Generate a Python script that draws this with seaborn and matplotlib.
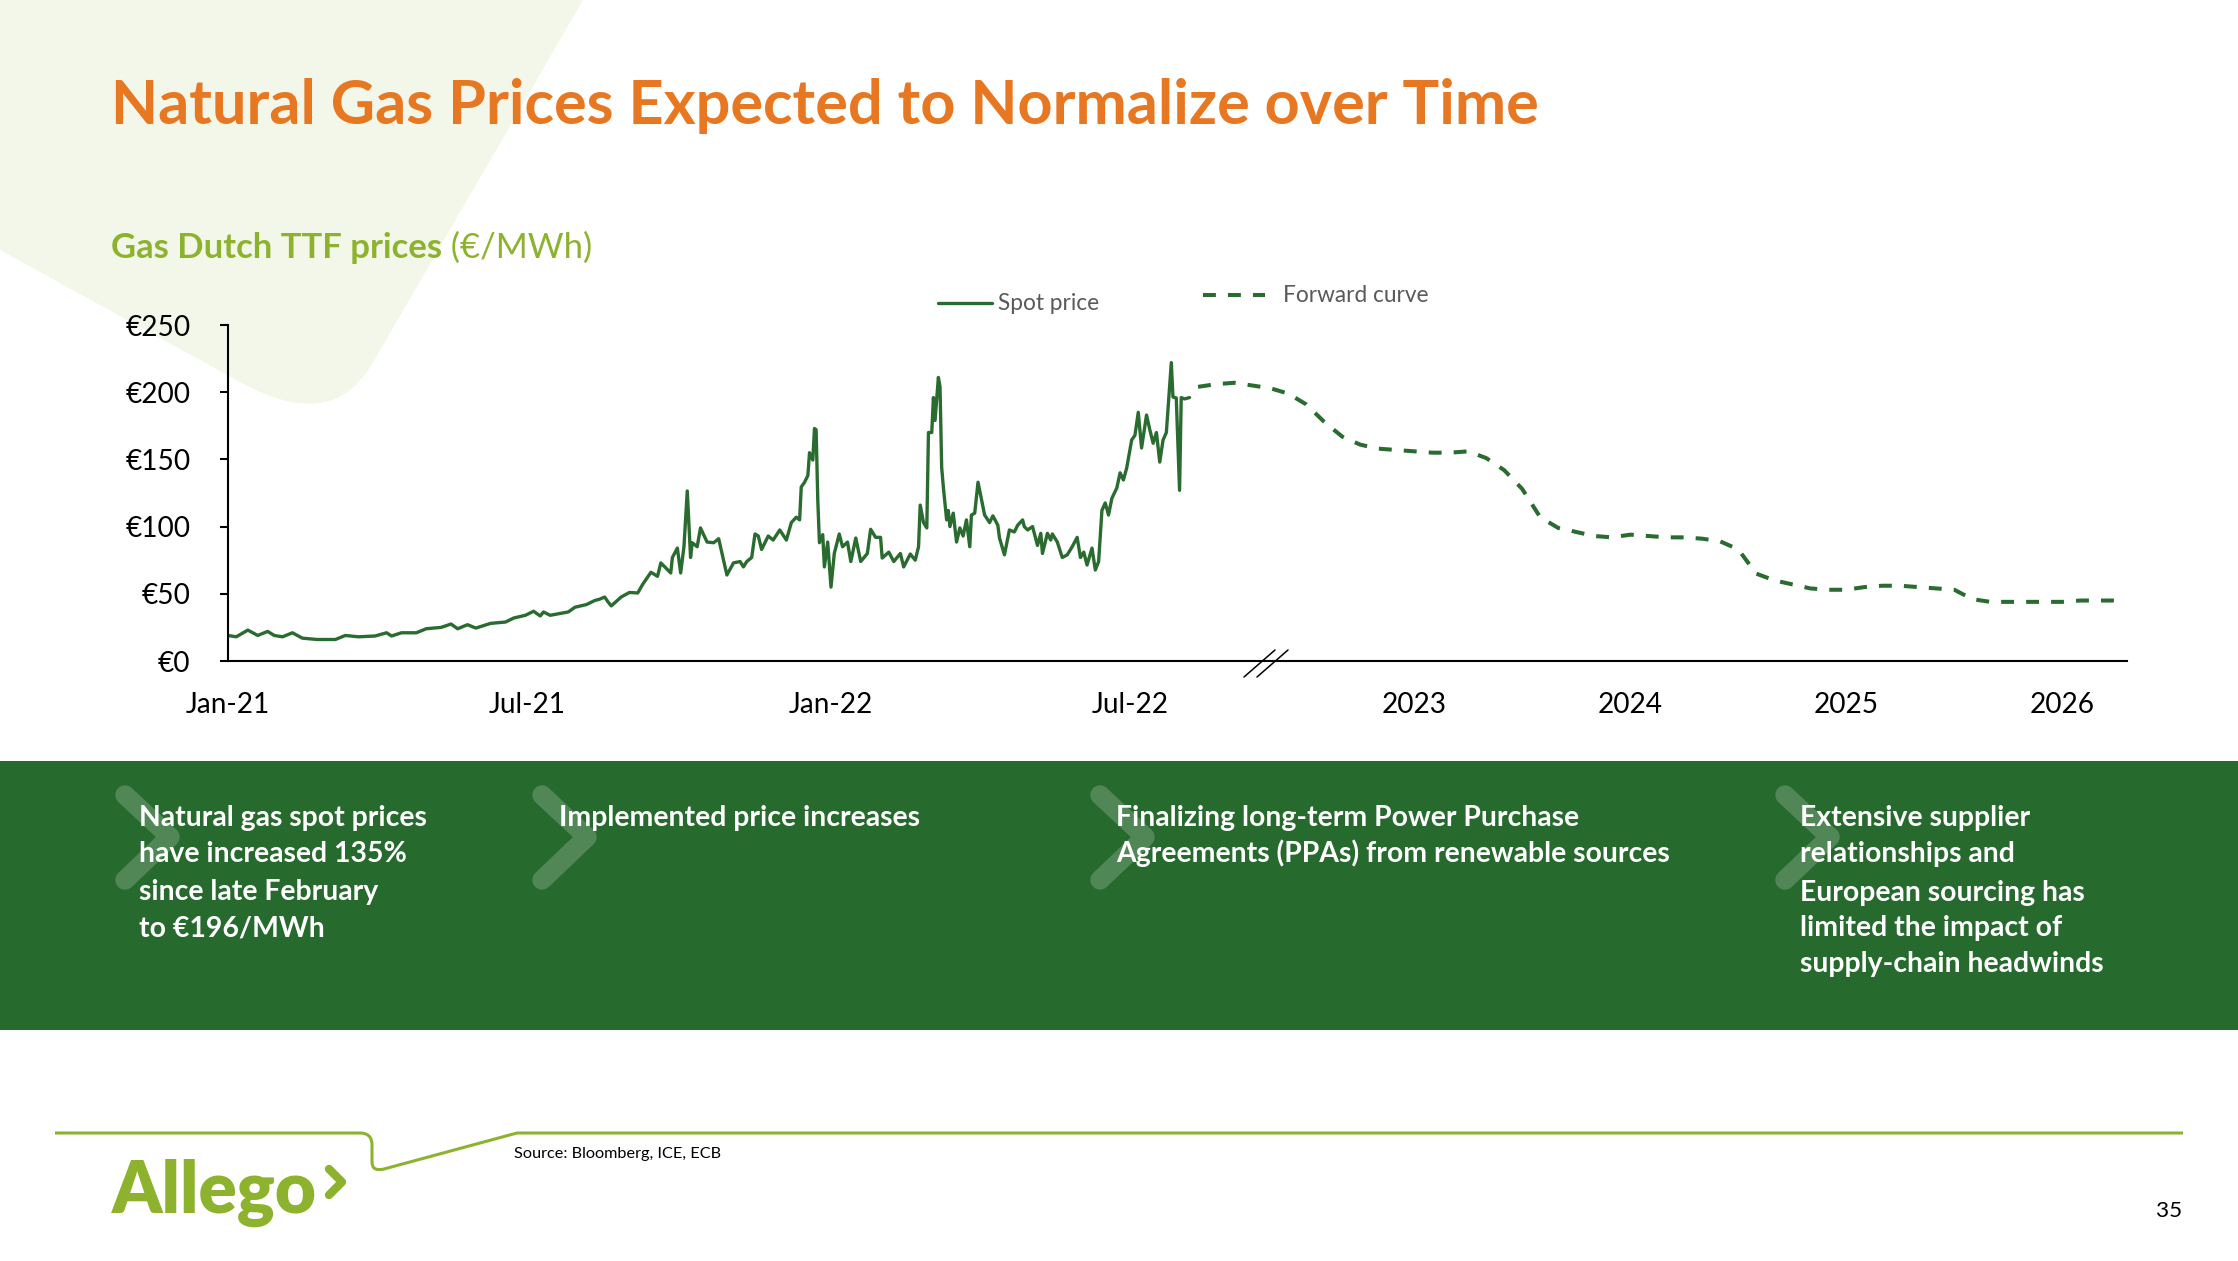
import numpy as np
import pandas as pd
import matplotlib
matplotlib.use("Agg")
import matplotlib.pyplot as plt
import seaborn as sns
from matplotlib.path import Path
from matplotlib.patches import PathPatch, Rectangle

# ---------------- data ----------------
# Spot price: days since 2021-01-01 and price in EUR/MWh
spot_day = [
    0, 5, 12, 18, 24, 28, 33, 39, 45, 54,
    65, 71, 79, 89, 96, 99, 105, 114, 120, 129,
    135, 139, 145, 150, 159, 168, 173, 180, 185, 189,
    191, 195, 206, 210, 217, 222, 225, 228, 230, 232,
    238, 243, 248, 251, 256, 260, 262, 268, 269, 272,
    274, 276, 278, 280, 281, 284, 286, 290, 294, 297,
    302, 306, 310, 312, 314, 317, 319, 321, 323, 327,
    330, 334, 338, 341, 344, 346, 347, 349, 351, 352,
    354, 355, 356, 357, 358, 360, 361, 363, 365, 367,
    370, 372, 375, 377, 380, 383, 387, 389, 392, 395,
    396, 400, 403, 407, 409, 413, 416, 418, 419, 421,
    423, 424, 426, 427, 428, 430, 431, 432, 433, 435,
    436, 437, 439, 441, 443, 445, 447, 449, 450, 452,
    454, 458, 461, 463, 466, 467, 470, 473, 476, 478,
    481, 482, 484, 487, 490, 492, 493, 496, 498, 499,
    502, 505, 508, 511, 514, 516, 518, 520, 523, 525,
    527, 529, 531, 533, 535, 538, 540, 542, 544, 547,
    549, 551, 553, 556, 558, 560, 562, 564, 566, 568,
    571, 572, 574, 576, 577, 579, 582,
]
spot_price = [
    19, 18, 23, 19, 22, 19, 18, 21, 17, 16,
    16, 19, 18, 18.6, 21, 18.6, 21, 21, 24, 25,
    27.5, 24, 27, 24.5, 28, 29, 32, 34, 37, 33.5,
    36.5, 34, 36.5, 40, 42, 45, 46, 47.6, 44, 41,
    47.6, 51, 50.6, 57, 66, 63, 73, 65.5, 77, 84,
    65.5, 85, 126.5, 77, 88, 85, 99, 88.5, 88, 91,
    64, 73, 74, 70, 74, 77, 94.5, 93, 83, 93,
    90, 97.5, 90, 103, 107, 105, 129.5, 133, 138, 155,
    149.5, 173, 172, 120, 88, 94, 70, 88.5, 55, 80,
    94.5, 85, 88.5, 74, 91.5, 74, 80, 98, 92, 92,
    76.6, 81, 74, 80, 70, 79.6, 75, 85, 116, 103,
    99, 170, 170, 196, 179, 211, 204, 144, 129.5, 105,
    112, 100, 110, 88.5, 99, 93, 105, 85, 108.6, 110,
    133, 108.6, 103, 108, 101, 91.5, 79, 97.5, 96, 101,
    105, 100, 97.5, 100, 86, 95, 80, 95, 90, 94.5,
    88.5, 77, 79, 85, 92, 77, 81, 71.4, 84, 67.7,
    74, 112, 117.6, 108.6, 121, 128.7, 140, 134.7, 143.6, 164.4,
    168, 185, 158.5, 183, 172, 162, 170, 148, 164.4, 170,
    222, 196.4, 195.7, 127, 196, 195, 196,
]

# Forward curve: monthly contracts (index 0 = first forward month)
fwd_month = list(range(52))
fwd_price = [
    204, 206, 207, 205, 203, 199, 191, 178, 167, 161,
    158, 157, 156, 155, 155, 156, 151, 142, 128, 107,
    99, 96, 93, 92, 94, 93, 92, 92, 91, 89,
    83, 65, 60, 57, 54, 53, 53, 55, 56, 56,
    55, 54, 53, 46, 44, 44, 44, 44, 44, 45,
    45, 45,
]

spot_tick_days = [0, 181, 365, 546]
spot_tick_labels = ["Jan-21", "Jul-21", "Jan-22", "Jul-22"]
fwd_tick_months = [12, 24, 36, 48]
fwd_tick_labels = ["2023", "2024", "2025", "2026"]
y_ticks = [0, 50, 100, 150, 200, 250]
y_tick_labels = ["€0", "€50", "€100", "€150", "€200", "€250"]

series_labels = ["Spot price", "Forward curve"]
title_text = "Natural Gas Prices Expected to Normalize over Time"
subtitle_bold = "Gas Dutch TTF prices"
subtitle_regular = " (€/MWh)"
source_text = "Source: Bloomberg, ICE, ECB"
page_number = "35"
logo_text = "Allego"

box1_lines = ["Natural gas spot prices", "have increased 135%", "since late February", "to €196/MWh"]
box2_lines = ["Implemented price increases"]
box3_lines = ["Finalizing long-term Power Purchase", "Agreements (PPAs) from renewable sources"]
box4_lines = ["Extensive supplier", "relationships and", "European sourcing has",
              "limited the impact of", "supply-chain headwinds"]

# ---------------- layout / style ----------------
FWD_START = 587.2      # axis position of the first forward month (spot axis in days)
FWD_STEP = 10.9        # axis width of one forward month (compressed scale)
X_MAX = 1149.5
BREAK_POS_PX = 1266

ORANGE = "#E87722"
LIME = "#8DB32E"
DARK_GREEN = "#2A6B30"
BOX_GREEN = "#266A2D"
SHAPE = "#F2F7E9"
GREY = "#595959"

sns.set_theme(style="white")
plt.rcParams["font.family"] = ["Lato", "DejaVu Sans"]
plt.rcParams["axes.unicode_minus"] = False

W, H = 2238, 1261
fig = plt.figure(figsize=(W / 100, H / 100), dpi=100)
fig.patch.set_facecolor("white")
renderer = fig.canvas.get_renderer()

bg = fig.add_axes([0, 0, 1, 1])
bg.set_xlim(0, W)
bg.set_ylim(H, 0)
bg.axis("off")
bg.set_zorder(0)


def fitted_size(s, width, size=20.0, **kw):
    t = fig.text(0, 0, s, fontsize=size, **kw)
    w = t.get_window_extent(renderer).width
    t.remove()
    return size * width / w


# background decorative shape (top-left)
verts = [(0, 0), (583, 0), (372, 364), (332, 433), (240, 382), (0, 250), (0, 0)]
codes = [Path.MOVETO, Path.LINETO, Path.LINETO, Path.CURVE3, Path.CURVE3, Path.LINETO, Path.CLOSEPOLY]
bg.add_patch(PathPatch(Path(verts, codes), facecolor=SHAPE, edgecolor="none", zorder=0))

# title and subtitle
ts = fitted_size(title_text, 1429, fontweight="bold")
bg.text(111, 124, title_text, fontsize=ts, fontweight="bold", color=ORANGE, va="baseline", ha="left")
ss = fitted_size(subtitle_bold, 331, fontweight="bold")
t1 = bg.text(111, 258, subtitle_bold, fontsize=ss, fontweight="bold", color=LIME, va="baseline", ha="left")
fig.canvas.draw()
bb = t1.get_window_extent(renderer)
bg.text(bb.x1, 258, subtitle_regular, fontsize=ss, color=LIME, va="baseline", ha="left")

# green information band
bg.add_patch(Rectangle((0, 761), W, 269, facecolor=BOX_GREEN, edgecolor="none", zorder=1))
for left in [125, 542, 1100, 1785]:
    bg.plot([left, left + 45, left], [795, 837, 880], color="white", alpha=0.2, lw=14,
            solid_capstyle="round", solid_joinstyle="round", zorder=2)

bs = fitted_size(box3_lines[1], 555, fontweight="bold")
for x0, lines, bases in [(139, box1_lines, [826, 862, 900, 936]),
                         (559, box2_lines, [826]),
                         (1116, box3_lines, [826, 862]),
                         (1800, box4_lines, [826, 862, 901, 936, 972])]:
    for s, b in zip(lines, bases):
        bg.text(x0, b, s, fontsize=bs, fontweight="bold", color="white", va="baseline", ha="left", zorder=3)

# footer line
fverts = [(55, 1133), (360, 1133), (372, 1133), (372, 1145), (372, 1162), (372, 1172), (384, 1169),
          (517, 1133), (2183, 1133)]
fcodes = [Path.MOVETO, Path.LINETO, Path.CURVE3, Path.CURVE3, Path.LINETO, Path.CURVE3, Path.CURVE3,
          Path.LINETO, Path.LINETO]
bg.add_patch(PathPatch(Path(fverts, fcodes), facecolor="none", edgecolor=LIME, lw=2.2, zorder=1))

# logo, source, page number
ls = fitted_size(logo_text, 205, fontweight="heavy")
bg.text(112, 1213, logo_text, fontsize=ls, fontweight="heavy", color=LIME, va="baseline", ha="left")
bg.plot([329, 342, 329], [1169, 1182, 1195], color=LIME, lw=6, solid_capstyle="round",
        solid_joinstyle="round")
srs = fitted_size(source_text, 207)
bg.text(514, 1158, source_text, fontsize=srs, color="black", va="baseline", ha="left")
ps = fitted_size(page_number, 26)
bg.text(2182, 1217, page_number, fontsize=ps, color="black", va="baseline", ha="right")

# ---------------- chart ----------------
ax = fig.add_axes([228 / W, 1 - 661 / H, (2127 - 228) / W, (661 - 325) / H])
ax.set_zorder(2)
ax.patch.set_alpha(0)

spot_df = pd.DataFrame({"x": spot_day, "price": spot_price})
fwd_df = pd.DataFrame({"x": FWD_START + FWD_STEP * np.array(fwd_month), "price": fwd_price})

sns.lineplot(data=spot_df, x="x", y="price", ax=ax, color=DARK_GREEN, lw=2.4,
             estimator=None, sort=False, legend=False)
spot_line = ax.lines[-1]
sns.lineplot(data=fwd_df, x="x", y="price", ax=ax, color=DARK_GREEN, lw=2.9,
             estimator=None, sort=False, legend=False)
fwd_line = ax.lines[-1]
fwd_line.set_dashes((3.2, 3.0))

ax.set_xlim(0, X_MAX)
ax.set_ylim(0, 250)
ax.set_xlabel("")
ax.set_ylabel("")
ax.grid(False)
for side in ["top", "right"]:
    ax.spines[side].set_visible(False)
for side in ["left", "bottom"]:
    ax.spines[side].set_color("black")
    ax.spines[side].set_linewidth(1.5)

tick_size = fitted_size("€250", 65)
xpos = list(spot_tick_days) + [FWD_START + FWD_STEP * m for m in fwd_tick_months]
ax.set_xticks(xpos, spot_tick_labels + fwd_tick_labels)
ax.set_yticks(y_ticks, y_tick_labels)
ax.tick_params(axis="y", left=True, direction="out", length=6, width=1.5, pad=21,
               labelsize=tick_size, colors="black")
ax.tick_params(axis="x", bottom=False, length=0, pad=22, labelsize=tick_size, colors="black")

# axis break mark
for dx in (0, 13):
    bg.plot([1244 + dx, 1275 + dx], [677, 650], color="black", lw=1.1, zorder=5)
bg.set_zorder(0)

# legends
leg_fs = fitted_size(series_labels[0], 101)
px = leg_fs * 100 / 72
leg1 = ax.legend([spot_line], [series_labels[0]], loc="center left",
                 bbox_to_anchor=(938, 304), bbox_transform=bg.transData,
                 frameon=False, borderpad=0, borderaxespad=0, fontsize=leg_fs,
                 handlelength=54 / px, handletextpad=6 / px, labelcolor=GREY)
ax.add_artist(leg1)
ax.legend([fwd_line], [series_labels[1]], loc="center left",
          bbox_to_anchor=(1203, 296), bbox_transform=bg.transData,
          frameon=False, borderpad=0, borderaxespad=0, fontsize=leg_fs,
          handlelength=62 / px, handletextpad=18 / px, labelcolor=GREY)

fig.savefig("out.png", dpi=100)
